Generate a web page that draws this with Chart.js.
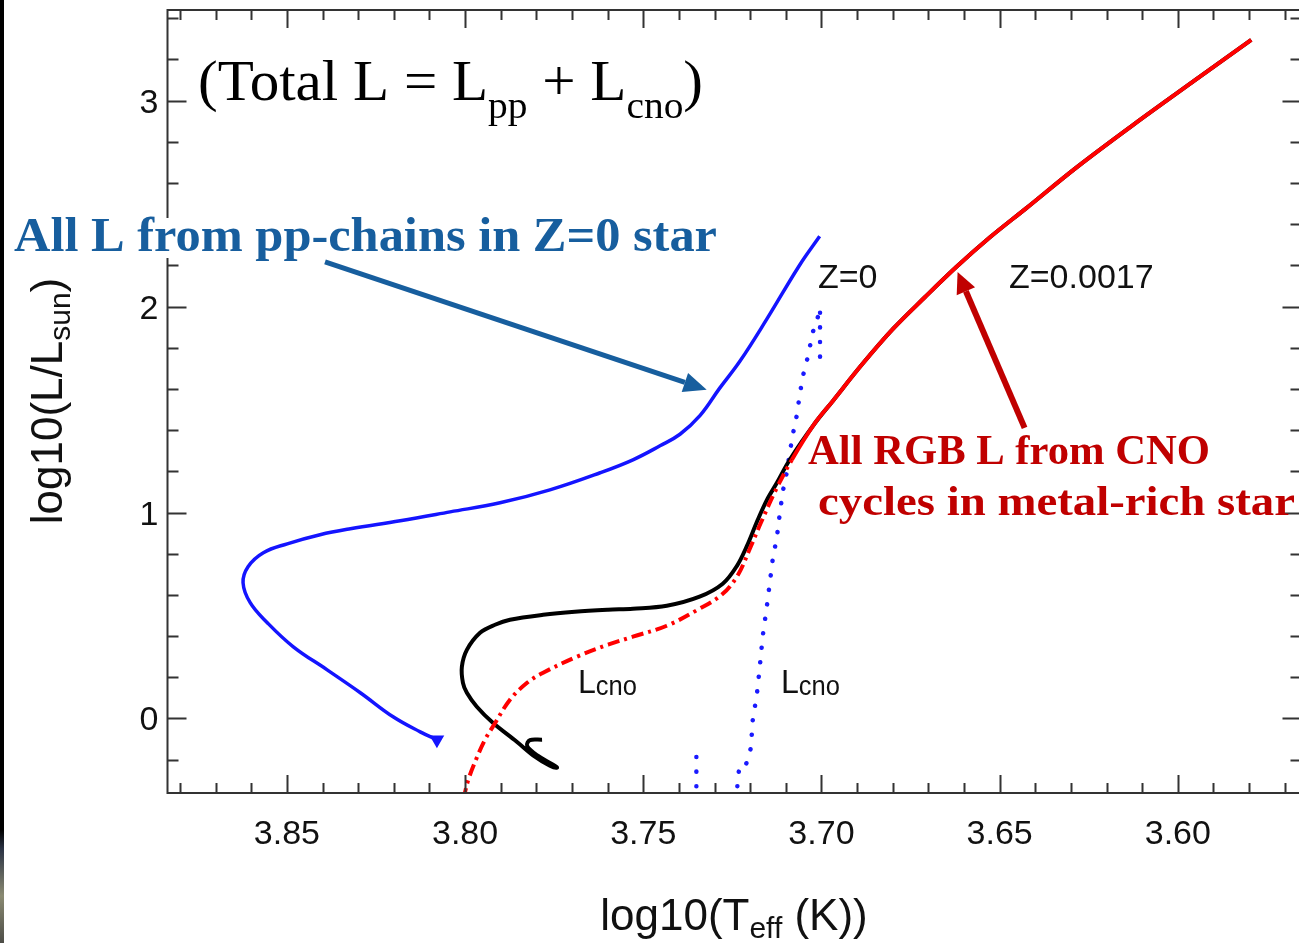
<!DOCTYPE html>
<html>
<head>
<meta charset="utf-8">
<script src="https://cdn.jsdelivr.net/npm/chart.js@4.4.1/dist/chart.umd.min.js"></script>
<style>
  html, body { margin: 0; padding: 0; background: #fff; overflow: hidden; }
  #wrap { position: relative; width: 1310px; height: 943px; }
  #edge { position: absolute; left: 0; top: 0; width: 4px; height: 943px;
          background: linear-gradient(to bottom, #000 0, #000 88%, #2b3344 90%, #8a8a72 95%, #4d4d47 100%); }
</style>
</head>
<body>
<div id="wrap"><canvas id="hr" width="1310" height="943"></canvas></div>
<div id="edge"></div>
<script>
// Datos (log10 Teff, log10 L/Lsun)

// Z=0, luminosidad total (linea azul)
const z0TotalT = [3.8079, 3.8126, 3.8202, 3.8294, 3.8387, 3.8482, 3.8555, 3.8603, 3.8623, 3.8609,
  3.8566, 3.8499, 3.8407, 3.8322, 3.8182, 3.8042, 3.7902, 3.7762, 3.7621, 3.7529,
  3.7453, 3.7397, 3.7341, 3.7285, 3.7229, 3.7153, 3.7061, 3.7005];
const z0TotalL = [-0.103, -0.065, 0.008, 0.125, 0.236, 0.348, 0.465, 0.562, 0.659, 0.737,
  0.805, 0.848, 0.892, 0.921, 0.960, 1.003, 1.047, 1.110, 1.193, 1.256,
  1.324, 1.380, 1.470, 1.605, 1.734, 1.940, 2.202, 2.341];

// Z=0, L del ciclo CNO (puntos azules), null = corte de la linea
const z0CnoT = [3.7351, 3.7351, null, 3.7238, 3.7235, 3.7229, 3.7212, 3.7204, 3.7198, 3.7193,
  3.7181, 3.7173, 3.7165, 3.7153, 3.7145, 3.7137, 3.7125, 3.7117, 3.7108, 3.7097,
  3.7089, 3.7080, 3.7069, 3.7061, 3.7052, 3.7041, 3.7032, 3.7024, 3.7010, 3.7004,
  3.7004, 3.7004];
const z0CnoL = [-0.40, -0.135, null, -0.40, -0.293, -0.225, -0.225, -0.181, -0.142, -0.011,
  0.120, 0.251, 0.397, 0.547, 0.659, 0.770, 0.882, 0.994, 1.106, 1.198,
  1.290, 1.382, 1.474, 1.571, 1.663, 1.736, 1.809, 1.877, 1.950, 1.994,
  1.853, 1.707];

// Z=0.0017, luminosidad total (linea negra)
const z17TotalT = [3.7784, 3.7818, 3.7826, 3.7796, 3.7753, 3.7742, 3.7762, 3.7804, 3.7855, 3.7922,
  3.7967, 3.7995, 3.8006, 3.8009, 3.7995, 3.7958, 3.7916, 3.7874, 3.7781, 3.7692,
  3.7599, 3.7529, 3.7434, 3.7342, 3.7277, 3.7237, 3.7209, 3.7181, 3.7153, 3.7125,
  3.7089, 3.7020, 3.6968, 3.6887, 3.6800, 3.6710, 3.6621, 3.6528, 3.6425, 3.6284,
  3.6127, 3.5939, 3.5794];
const z17TotalL = [-0.103, -0.105, -0.133, -0.181, -0.225, -0.239, -0.230, -0.186, -0.113, -0.021,
  0.057, 0.125, 0.173, 0.251, 0.333, 0.416, 0.455, 0.479, 0.503, 0.518,
  0.528, 0.533, 0.547, 0.591, 0.654, 0.741, 0.838, 0.955, 1.061, 1.144,
  1.256, 1.430, 1.542, 1.717, 1.890, 2.045, 2.193, 2.335, 2.478, 2.676,
  2.880, 3.115, 3.295];

// Z=0.0017, L del ciclo CNO (rojo, raya-punto y luego continuo)
const z17CnoT = [3.8005, 3.7991, 3.7966, 3.7944, 3.7922, 3.7874, 3.7826, 3.7781, 3.7686, 3.7599,
  3.7529, 3.7434, 3.7342, 3.7277, 3.7234, 3.7201, 3.7170, 3.7128, 3.7083, 3.7020,
  3.6968, 3.6887, 3.6800, 3.6710, 3.6621, 3.6528, 3.6425, 3.6284, 3.6127, 3.5939,
  3.5794];
const z17CnoL = [-0.395, -0.298, -0.186, -0.103, -0.040, 0.091, 0.173, 0.222, 0.300, 0.358,
  0.397, 0.450, 0.533, 0.605, 0.698, 0.824, 0.950, 1.110, 1.256, 1.430,
  1.542, 1.717, 1.890, 2.045, 2.193, 2.335, 2.478, 2.676, 2.880, 3.115,
  3.295];

// Ejes
const xTicks = [3.85, 3.80, 3.75, 3.70, 3.65, 3.60];
const xTickLabels = ['3.85', '3.80', '3.75', '3.70', '3.65', '3.60'];
const yTicks = [0, 1, 2, 3];
const yTickLabels = ['0', '1', '2', '3'];

// Flechas de las notas (en coordenadas de datos)
const arrowPP = { from: [3.8393, 2.217], to: [3.7322, 1.596] };
const arrowCNO = { from: [3.6430, 1.411], to: [3.6618, 2.168] };

const noteBlue = '#175e9e';
const noteRed = '#c00000';
const sans = '"Liberation Sans", Arial, sans-serif';
const serif = '"Liberation Serif", "Times New Roman", serif';

function pts(xs, ys) {
  return xs.map((x, i) => ({ x: x, y: ys[i] }));
}

// Texto con subindices; width = ancho deseado (estira en horizontal)
function rich(ctx, parts, x, y, opt) {
  opt = opt || {};
  let total = 0;
  const w = parts.map(p => { ctx.font = p.f; const m = ctx.measureText(p.t).width; total += m; return m; });
  const sx = opt.width ? opt.width / total : 1;
  ctx.save();
  ctx.translate(x, y);
  if (opt.rotate) ctx.rotate(opt.rotate);
  ctx.scale(sx, 1);
  ctx.fillStyle = opt.color || '#111';
  ctx.textBaseline = 'alphabetic';
  ctx.textAlign = 'left';
  let cx = opt.align === 'center' ? -total / 2 : (opt.align === 'right' ? -total : 0);
  parts.forEach((p, i) => {
    ctx.font = p.f;
    ctx.fillText(p.t, cx, p.dy || 0);
    cx += w[i];
  });
  ctx.restore();
}

function arrow(ctx, x0, y0, x1, y1, color, lw, headLen, headHalf) {
  const a = Math.atan2(y1 - y0, x1 - x0);
  const bx = x1 - headLen * Math.cos(a), by = y1 - headLen * Math.sin(a);
  ctx.save();
  ctx.strokeStyle = color;
  ctx.fillStyle = color;
  ctx.lineWidth = lw;
  ctx.lineCap = 'butt';
  ctx.beginPath();
  ctx.moveTo(x0, y0);
  ctx.lineTo(bx, by);
  ctx.stroke();
  ctx.beginPath();
  ctx.moveTo(x1, y1);
  ctx.lineTo(bx + headHalf * Math.sin(a), by - headHalf * Math.cos(a));
  ctx.lineTo(bx - headHalf * Math.sin(a), by + headHalf * Math.cos(a));
  ctx.closePath();
  ctx.fill();
  ctx.restore();
}

// Marco con marcas hacia dentro, etiquetas y titulos de ejes
const framePlugin = {
  id: 'frame',
  afterDraw(chart) {
    const ctx = chart.ctx;
    const a = chart.chartArea;
    const xs = chart.scales.x, ys = chart.scales.y;
    ctx.save();
    ctx.strokeStyle = '#333';
    ctx.lineWidth = 2;
    ctx.strokeRect(a.left, a.top, a.right - a.left, a.bottom - a.top);

    ctx.beginPath();
    for (let k = 357; k <= 388; k++) {
      const v = k / 100;
      const px = Math.round(xs.getPixelForValue(v)) + 0.5;
      const len = (k % 5 === 0) ? 18 : 10;
      ctx.moveTo(px, a.bottom); ctx.lineTo(px, a.bottom - len);
      ctx.moveTo(px, a.top); ctx.lineTo(px, a.top + len);
    }
    for (let k = -1; k <= 17; k++) {
      const v = k / 5;
      const py = Math.round(ys.getPixelForValue(v)) + 0.5;
      const len = (k % 5 === 0) ? 19 : 11;
      ctx.moveTo(a.left, py); ctx.lineTo(a.left + len, py);
      ctx.moveTo(a.right, py); ctx.lineTo(a.right - len, py);
    }
    ctx.stroke();
    ctx.restore();

    const tickFont = '34px ' + sans;
    xTicks.forEach((v, i) => {
      rich(ctx, [{ t: xTickLabels[i], f: tickFont }], xs.getPixelForValue(v), 844, { align: 'center' });
    });
    yTicks.forEach((v, i) => {
      rich(ctx, [{ t: yTickLabels[i], f: tickFont }], a.left - 9, ys.getPixelForValue(v) + 12, { align: 'right' });
    });

    rich(ctx, [
      { t: 'log10(T', f: '44px ' + sans },
      { t: 'eff', f: '30px ' + sans, dy: 8 },
      { t: ' (K))', f: '44px ' + sans }
    ], 734, 930, { align: 'center' });

    rich(ctx, [
      { t: 'log10(L/L', f: '44px ' + sans },
      { t: 'sun', f: '30px ' + sans, dy: 8 },
      { t: ')', f: '44px ' + sans }
    ], 62, 401, { align: 'center', rotate: -Math.PI / 2 });
  }
};

// Notas sobre la grafica
const notesPlugin = {
  id: 'notes',
  afterDraw(chart) {
    const ctx = chart.ctx;
    const xs = chart.scales.x, ys = chart.scales.y;
    const P = p => [xs.getPixelForValue(p[0]), ys.getPixelForValue(p[1])];

    rich(ctx, [{ t: 'Z=0', f: '34px ' + sans }], 818, 288);
    rich(ctx, [{ t: 'Z=0.0017', f: '34px ' + sans }], 1009, 288);
    rich(ctx, [{ t: 'L', f: '34px ' + sans }, { t: 'cno', f: '27px ' + sans, dy: 2 }], 578, 693, { width: 59 });
    rich(ctx, [{ t: 'L', f: '34px ' + sans }, { t: 'cno', f: '27px ' + sans, dy: 2 }], 781, 693, { width: 59 });

    rich(ctx, [
      { t: '(Total L = L', f: '57px ' + serif },
      { t: 'pp', f: '38px ' + serif, dy: 18 },
      { t: ' + L', f: '57px ' + serif },
      { t: 'cno', f: '38px ' + serif, dy: 18 },
      { t: ')', f: '57px ' + serif }
    ], 198, 100, { width: 505, color: '#000' });

    ctx.fillStyle = '#fff';
    ctx.fillRect(150, 218, 40, 40);
    rich(ctx, [{ t: 'All L from pp-chains in Z=0 star', f: 'bold 48px ' + serif }], 14, 251, { width: 703, color: noteBlue });
    const b0 = P(arrowPP.from), b1 = P(arrowPP.to);
    arrow(ctx, b0[0], b0[1], b1[0], b1[1], noteBlue, 5, 23, 10);

    rich(ctx, [{ t: 'All RGB L from CNO', f: 'bold 42px ' + serif }], 808, 464, { width: 402, color: noteRed });
    rich(ctx, [{ t: 'cycles in metal-rich star', f: 'bold 42px ' + serif }], 818, 515, { width: 477, color: noteRed });
    const r0 = P(arrowCNO.from), r1 = P(arrowCNO.to);
    arrow(ctx, r0[0], r0[1], r1[0], r1[1], noteRed, 6, 21, 10);
  }
};

const chart = new Chart(document.getElementById('hr'), {
  type: 'scatter',
  data: {
    datasets: [
      {
        label: 'Lcno Z=0.0017',
        data: pts(z17CnoT, z17CnoL),
        showLine: true,
        order: 0,
        borderColor: '#ff0000',
        borderWidth: 4,
        pointRadius: 0,
        tension: 0.35,
        segment: {
          borderDash: c => (c.p0.parsed.y < 1.2 ? [12, 5, 3, 5] : [])
        }
      },
      {
        label: 'Total Z=0.0017',
        data: pts(z17TotalT, z17TotalL),
        showLine: true,
        order: 1,
        borderColor: '#000000',
        borderWidth: 4,
        pointRadius: 0,
        tension: 0.35
      },
      {
        label: 'Total Z=0',
        data: pts(z0TotalT, z0TotalL),
        showLine: true,
        order: 2,
        borderColor: '#1414ff',
        backgroundColor: '#1414ff',
        borderWidth: 3.5,
        pointRadius: c => (c.dataIndex === 0 ? 5 : 0),
        pointStyle: 'triangle',
        rotation: 60,
        tension: 0.4
      },
      {
        label: 'Lcno Z=0',
        data: pts(z0CnoT, z0CnoL),
        showLine: true,
        spanGaps: false,
        order: 3,
        borderColor: '#1a1aff',
        borderWidth: 4.5,
        borderCapStyle: 'round',
        borderDash: [0.1, 14.5],
        pointRadius: 0,
        tension: 0
      }
    ]
  },
  options: {
    responsive: false,
    animation: false,
    devicePixelRatio: 1,
    events: [],
    layout: { padding: { left: 167.5, top: 10, right: 8, bottom: 150 } },
    plugins: { legend: { display: false }, tooltip: { enabled: false } },
    scales: {
      x: { type: 'linear', reverse: true, min: 3.5653, max: 3.8835, display: false },
      y: { type: 'linear', min: -0.362, max: 3.44, display: false }
    }
  },
  plugins: [framePlugin, notesPlugin]
});
</script>
</body>
</html>
